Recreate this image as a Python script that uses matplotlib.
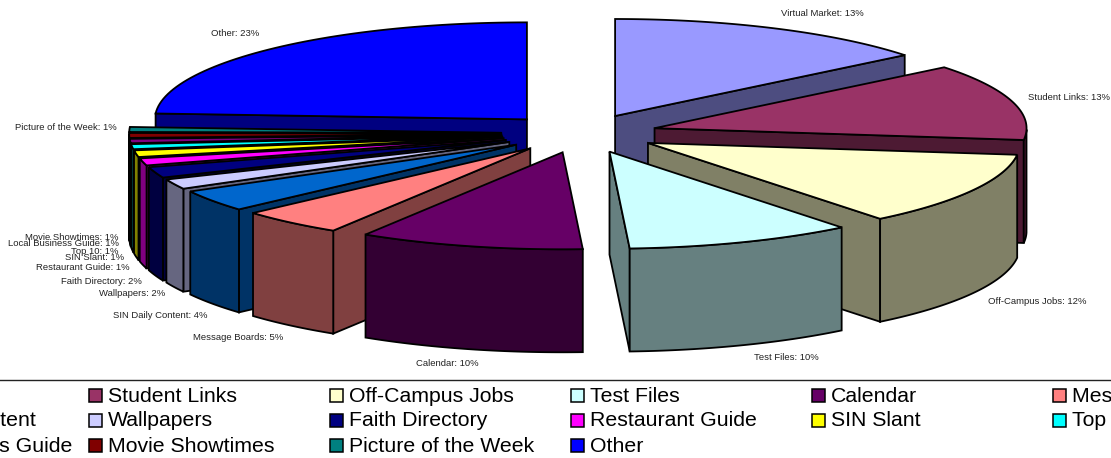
import numpy as np
import matplotlib
matplotlib.use('Agg')
import matplotlib.pyplot as plt
from matplotlib.patches import Polygon, Rectangle

plt.rcParams['font.family'] = ['Liberation Sans', 'DejaVu Sans']

names = ['Virtual Market', 'Student Links', 'Off-Campus Jobs', 'Test Files', 'Calendar',
         'Message Boards', 'SIN Daily Content', 'Wallpapers', 'Faith Directory', 'Restaurant Guide',
         'SIN Slant', 'Top 10', 'Local Business Guide', 'Movie Showtimes', 'Picture of the Week', 'Other']
# what the labels say
pct_labels = [13, 13, 12, 10, 10, 5, 4, 2, 2, 1, 1, 1, 1, 1, 1, 23]
shares = [14.2, 12.74, 12.33, 9.86, 9.75, 4.5, 3.61, 1.67, 1.81, 1.19, 1.11, 0.83, 0.72, 0.81, 0.83, 24.03]
colors = ['#9999FF', '#993366', '#FFFFCC', '#CCFFFF', '#660066', '#FF8080', '#0066CC', '#CCCCFF',
          '#000080', '#FF00FF', '#FFFF00', '#00FFFF', '#800080', '#800000', '#008080', '#0000FF']
# label centres in pixels
label_x = [822, 1069, 1037, 786, 447, 238, 160, 132, 101, 83, 95, 95, 63, 72, 66, 235]
label_y = [13, 97, 301, 358, 363, 337, 315, 294, 281, 268, 257, 251, 244, 237, 127, 34]

W, H = 1111, 458
cx, cy = 583, 133.5
rx, ry = 372, 97
explode_right = 0.2
explode_left = 0.22
explode_y = 0.2
depth = 103
lw = 1.3


def pt(ang, ox=0, oy=0):
    a = np.radians(ang)
    return ox + rx * np.sin(a), oy - ry * np.cos(a)


fig = plt.figure(figsize=(W / 100, H / 100), dpi=100)
ax = fig.add_axes([0, 0, 1, 1])
ax.set_xlim(0, W)
ax.set_ylim(H, 0)
ax.axis('off')

total = sum(shares)
ends = np.cumsum(shares) / total * 360
starts = ends - np.array(shares) / total * 360
mids = (starts + ends) / 2

# back slices first
order = np.argsort(-np.cos(np.radians(mids)))
z = 2
for i in order:
    face = np.array(matplotlib.colors.to_rgb(colors[i]))
    dark = face * 0.5
    ox, oy = pt(mids[i])
    ox = cx + ox * (explode_left if ox < 0 else explode_right)
    oy = cy + oy * explode_y
    angs = np.linspace(starts[i], ends[i], 60)
    arc = np.array([pt(a, ox, oy) for a in angs])
    apex = np.array([ox, oy])

    walls = []
    if arc[0, 0] < apex[0] - 0.5:
        walls.append(np.array([apex, arc[0]]))
    if arc[-1, 0] > apex[0] + 0.5:
        walls.append(np.array([arc[-1], apex]))
    keep = (angs > 90) & (angs < 270)
    if keep.sum() > 1:
        walls.append(arc[keep])
    for w in walls:
        quad = np.vstack([w, w[::-1] + [0, depth]])
        ax.add_patch(Polygon(quad, closed=True, facecolor=dark, edgecolor='black', linewidth=lw,
                             joinstyle='miter', zorder=z))
        z += 1
    ax.add_patch(Polygon(np.vstack([apex, arc]), closed=True, facecolor=face, edgecolor='black',
                         linewidth=lw, joinstyle='miter', zorder=z))
    z += 1

for name, pct, x, y in zip(names, pct_labels, label_x, label_y):
    ax.text(x, y, f'{name}: {pct}%', fontsize=6.8, color='#222222', ha='center', va='center', zorder=200)

# legend strip, cut by the figure edges like the source
ax.plot([0, W], [380, 380], color='#222222', linewidth=1, zorder=1)
col_x = [-152, 89, 330, 571, 812, 1053]
row_y = [395, 420, 445]
for k, (name, col) in enumerate(zip(names, colors)):
    x = col_x[k % 6]
    y = row_y[k // 6]
    ax.add_patch(Rectangle((x, y - 6), 13, 13, facecolor=col, edgecolor='black', linewidth=1.1, zorder=3))
    ax.text(x + 19, y + 1, name, fontsize=15.3, color='black', ha='left', va='center', zorder=3)

fig.savefig('out.png', dpi=100)
